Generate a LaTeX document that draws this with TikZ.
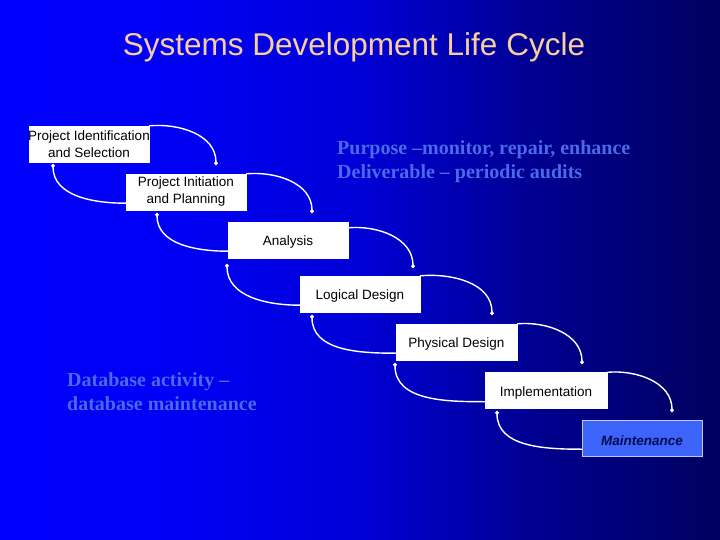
\documentclass[tikz,border=0pt]{standalone}
\usepackage{fontspec}
\setmainfont{Liberation Serif}
\setsansfont{Liberation Sans}
\usetikzlibrary{arrows.meta,calc}
\pgfdeclarehorizontalshading{slidebg}{100bp}{rgb(0bp)=(0,0,1); rgb(25bp)=(0,0,1); rgb(37.5bp)=(0,0,0.96); rgb(50bp)=(0,0,0.84); rgb(62.5bp)=(0,0,0.56); rgb(75bp)=(0,0,0.37); rgb(100bp)=(0,0,0.37)}
\definecolor{titlecol}{RGB}{250,205,160}
\definecolor{notecol}{RGB}{75,105,232}
\definecolor{maintfill}{RGB}{60,100,250}
\definecolor{maintdraw}{RGB}{190,200,255}
\definecolor{mainttext}{RGB}{10,10,80}
\begin{document}
\begin{tikzpicture}[x=1pt,y=-1pt,
  phase/.style={draw=white, fill=white, minimum width=120pt, minimum height=36pt,
    inner sep=0pt, align=center, text=black,
    font=\sffamily\fontsize{13.5}{17}\selectfont,
    execute at begin node={\rule{0pt}{14.5pt}}},
  twoline/.style={execute at begin node={\rule{0pt}{17pt}}},
  flow/.style={draw=white, line width=1.4pt, -{Circle[length=3.5pt]}},
  note/.style={font=\rmfamily\bfseries\fontsize{20}{24}\selectfont, text=notecol,
    align=left, anchor=west, inner sep=0pt}]
\useasboundingbox (0,0) rectangle (720,540);
\shade[shading=slidebg] (0,0) rectangle (720,540);

% title
\node[font=\sffamily\fontsize{31.5}{36}\selectfont, text=titlecol] (title) at (354,47) {Systems Development Life Cycle};

% phases
\node[phase, twoline, inner xsep=-2pt] (b1) at (89,144) {Project Identification\\and Selection};
\node[phase, twoline] (b2) at (186,192) {Project Initiation\\and Planning};
\node[phase] (b3) at (288,240) {Analysis};
\node[phase] (b4) at (360,294) {Logical Design};
\node[phase, minimum width=121pt] (b5) at (456.5,342) {Physical Design};
\node[phase, minimum width=122pt] (b6) at (546,390.5) {Implementation};
\node[phase, fill=maintfill, draw=maintdraw, text=mainttext,
  font=\sffamily\bfseries\itshape\fontsize{13.5}{17}\selectfont] (b7) at (642,438) {Maintenance};

% notes
\node[note] (purpose) at (337,162) {Purpose –monitor, repair, enhance\\Deliverable – periodic audits};
\node[note] (dbact) at (67,392) {Database activity –\\database maintenance};

% forward connector ends
\coordinate (f12) at (216,165);
\coordinate (f23) at (312,213);
\coordinate (f34) at (413,268);
\coordinate (f45) at (492,315);
\coordinate (f56) at (582,364);
\coordinate (f67) at (672,412);
% backward connector ends
\coordinate (r21) at (53,164);
\coordinate (r32) at (157,213);
\coordinate (r43) at (227,264);
\coordinate (r54) at (312,315);
\coordinate (r65) at (395,363);
\coordinate (r76) at (497,411);

\draw[flow] (b1.north east) to[out=5,in=90] (f12);
\draw[flow] (b2.north east) to[out=5,in=90] (f23);
\draw[flow] ($(b3.north east)+(0,6)$) to[out=5,in=90] (f34);
\draw[flow] (b4.north east) to[out=5,in=90] (f45);
\draw[flow] (b5.north east) to[out=5,in=90] (f56);
\draw[flow] (b6.north east) to[out=5,in=90] (f67);

\draw[flow] ($(b2.south west)+(0,-7)$) to[out=180,in=-90] (r21);
\draw[flow] ($(b3.south west)+(0,-7)$) to[out=180,in=-90] (r32);
\draw[flow] ($(b4.south west)+(0,-7)$) to[out=180,in=-90] (r43);
\draw[flow] ($(b5.south west)+(0,-7)$) to[out=180,in=-90] (r54);
\draw[flow] ($(b6.south west)+(0,-7)$) to[out=180,in=-90] (r65);
\draw[flow] ($(b7.south west)+(0,-7)$) to[out=180,in=-90] (r76);
\end{tikzpicture}
\end{document}
